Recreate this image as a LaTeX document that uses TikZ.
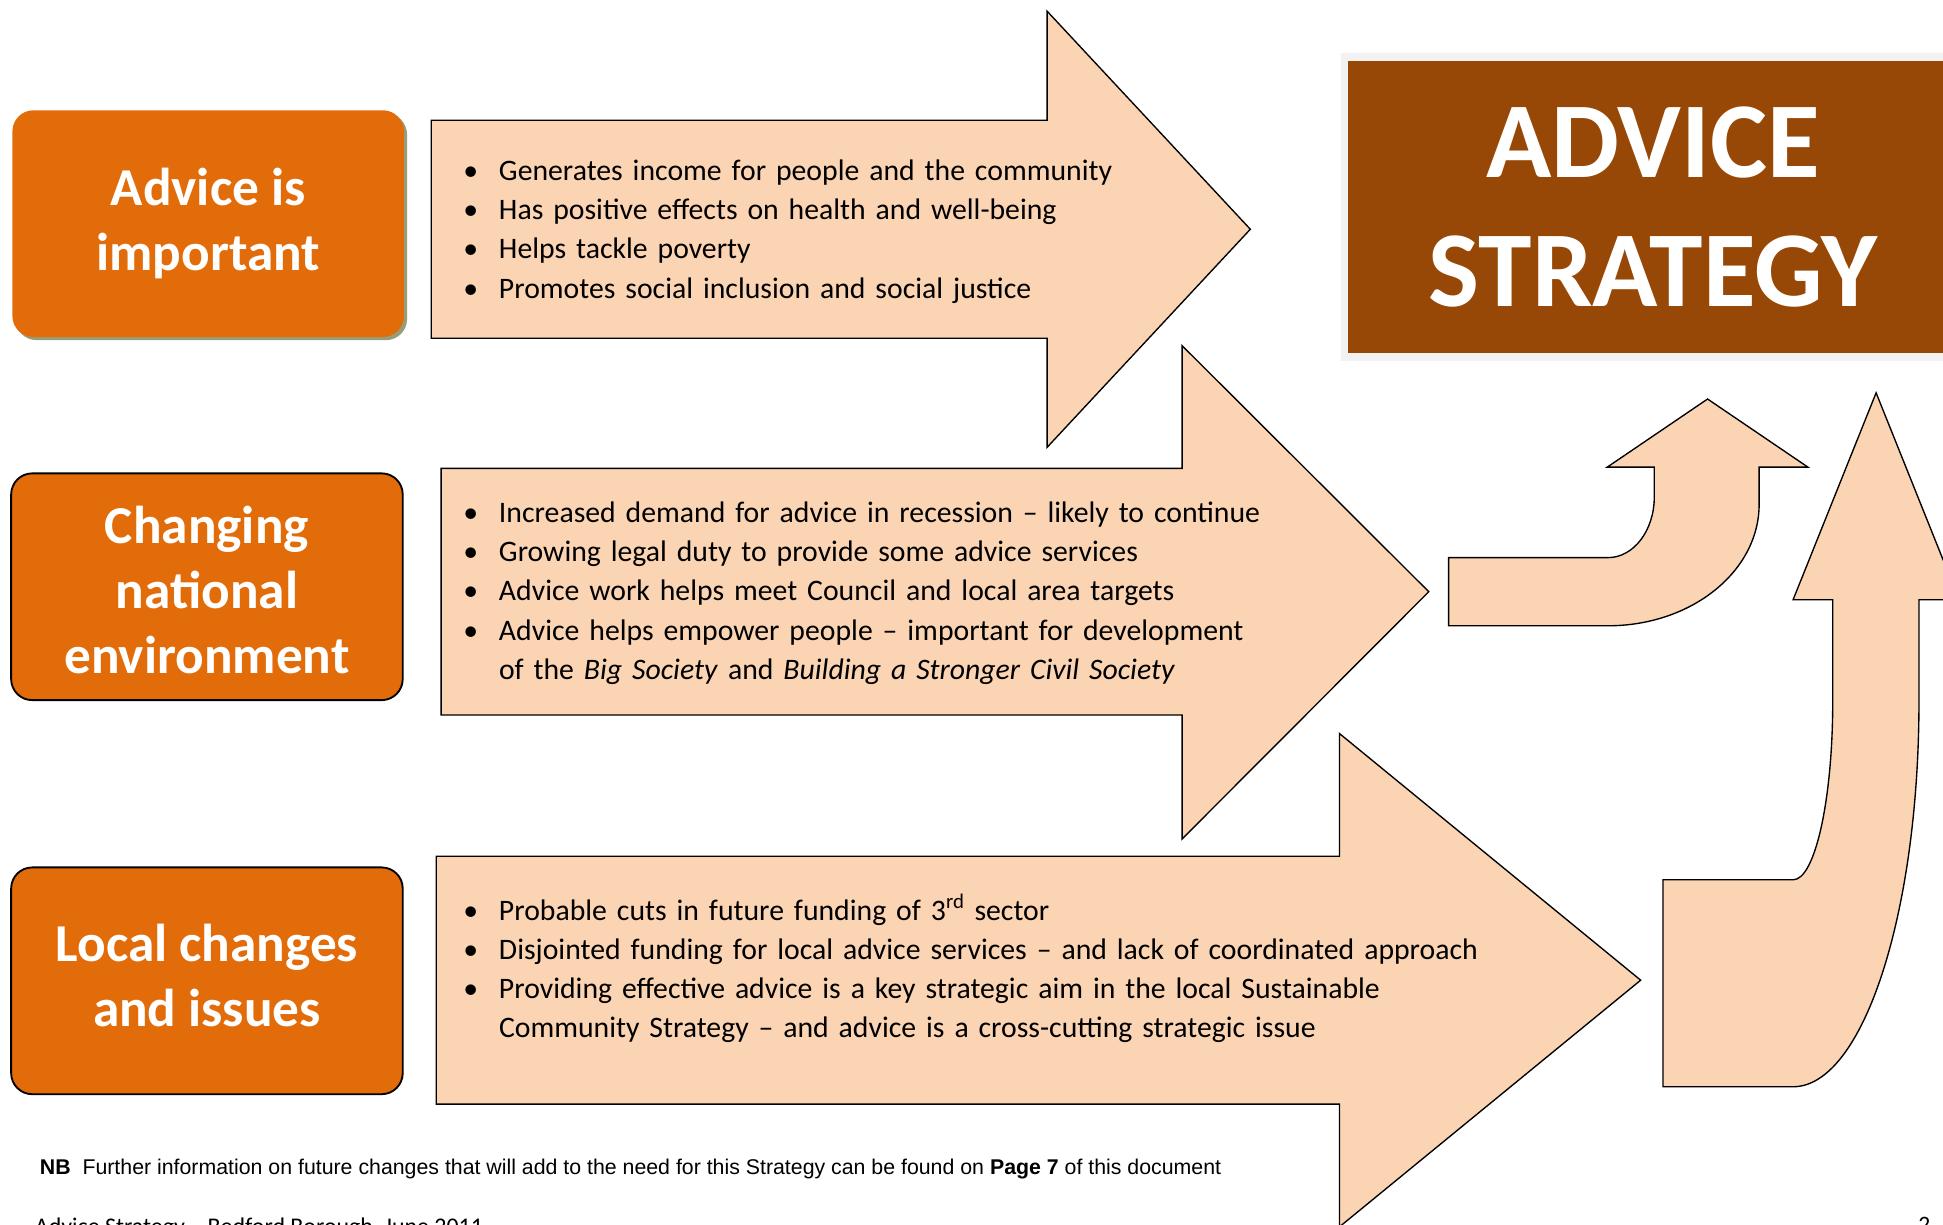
\documentclass[tikz,border=0pt]{standalone}
\usepackage{fontspec}
\setmainfont{Carlito}
\newfontfamily\arialfont{Liberation Sans}
\usepackage{tikz}
\usetikzlibrary{shadows}

\definecolor{boxorange}{RGB}{227,108,10}
\definecolor{arrowpeach}{RGB}{251,212,180}
\definecolor{strategybrown}{RGB}{151,72,6}
\definecolor{shadowolive}{RGB}{150,158,120}
\definecolor{framegray}{RGB}{242,242,242}

\newcommand{\bul}{\makebox[28.8pt][l]{\textbullet}}

\begin{document}
\begin{tikzpicture}[x=1pt,y=-1pt,
  causebox/.style={rectangle,rounded corners=17pt,fill=boxorange,text=white,
    minimum width=316pt,minimum height=183pt,align=center,inner sep=0pt,
    font=\fontsize{43}{52.5}\selectfont\bfseries},
  reasonarrow/.style={fill=arrowpeach,draw=black,line width=1.1pt,line join=miter},
  reasontext/.style={anchor=base west,inner sep=0pt,text width=1000pt,align=left,
    font=\fontsize{24}{31.7}\selectfont}]
  \useasboundingbox (0,0) rectangle (1568,988);
  \clip (0,0) rectangle (1568,988);

  % the three reasons
  \node[causebox,drop shadow={shadow xshift=2.5pt,shadow yshift=-2.5pt,fill=shadowolive,opacity=1}]
    (important) at (168,180.5) {Advice is\\important};
  \node[causebox,draw=black,line width=1.5pt] (national) at (167,473.5)
    {\rule{0pt}{35pt}Changing\\national\\environment};
  \node[causebox,draw=black,line width=1.5pt] (local) at (167,791.5)
    {Local changes\\and issues\rule[-9pt]{0pt}{1pt}};

  % block arrows
  \filldraw[reasonarrow] (348,97) -- (845,97) -- (845,9) -- (1009,185) -- (845,361)
    -- (845,273) -- (348,273) -- cycle;
  \filldraw[reasonarrow] (356,378) -- (954,378) -- (954,279) -- (1153,477.5) -- (954,677)
    -- (954,577) -- (356,577) -- cycle;
  \filldraw[reasonarrow] (352,691) -- (1081,691) -- (1081,592) -- (1324,791) -- (1081,990)
    -- (1081,891) -- (352,891) -- cycle;

  % curved arrows up to the strategy
  \filldraw[reasonarrow] (1169,450) -- (1297.6,450) .. controls (1318.3,450) and (1335,428.1) .. (1335,401)
    -- (1335,377) -- (1297,377) -- (1378,322) -- (1459,377) -- (1419.6,377) -- (1419.6,407)
    .. controls (1419.6,461.1) and (1365,505) .. (1297.6,505) -- (1169,505) -- cycle;
  \filldraw[reasonarrow] (1342,710) -- (1447,710) .. controls (1464.7,710) and (1479,645.5) .. (1479,566)
    -- (1479,484) -- (1447,484) -- (1514,317) -- (1581,484) -- (1548.6,484) -- (1548.6,566)
    .. controls (1548.6,737.8) and (1503.1,877) .. (1447,877) -- (1342,877) -- cycle;

  \node[fill=strategybrown,draw=framegray,line width=6pt,minimum width=498pt,minimum height=242pt,
    inner sep=0pt,text=white,align=center,font=\fontsize{87}{103.5}\selectfont\bfseries]
    (strategy) at (1334,167) {ADVICE\\STRATEGY};

  % bullet lists
  \node[reasontext] (importantText) at (373.7,145.5)
    {\bul Generates income for people and the community\\
     \bul Has positive effects on health and well-being\\
     \bul Helps tackle poverty\\
     \bul Promotes social inclusion and social justice};
  \node[reasontext] (nationalText) at (373.7,421.5)
    {\bul Increased demand for advice in recession -- likely to continue\\
     \bul Growing legal duty to provide some advice services\\
     \bul Advice work helps meet Council and local area targets\\
     \bul Advice helps empower people -- important for development\\
     \hspace*{28.8pt}of the \textit{Big Society} and \textit{Building a Stronger Civil Society}};
  \node[reasontext] (localText) at (373.7,742.5)
    {\bul Probable cuts in future funding of 3\textsuperscript{rd} sector\\
     \bul Disjointed funding for local advice services -- and lack of coordinated approach\\
     \bul Providing effective advice is a key strategic aim in the local Sustainable\\
     \hspace*{28.8pt}Community Strategy -- and advice is a cross-cutting strategic issue};

  % footnote and page footer
  \node[anchor=base west,inner sep=0pt,font=\arialfont\fontsize{17.2}{20}\selectfont] (note) at (32,948)
    {\textbf{NB}\ \ Further information on future changes that will add to the need for this Strategy can be found on \textbf{Page 7} of this document};
  \node[anchor=base west,inner sep=0pt,font=\fontsize{19.3}{23}\selectfont] (footer) at (28,996)
    {Advice Strategy -- Bedford Borough, June 2011};
  \node[anchor=base west,inner sep=0pt,font=\fontsize{19}{23}\selectfont] (pagenum) at (1548,995) {2};
\end{tikzpicture}
\end{document}
